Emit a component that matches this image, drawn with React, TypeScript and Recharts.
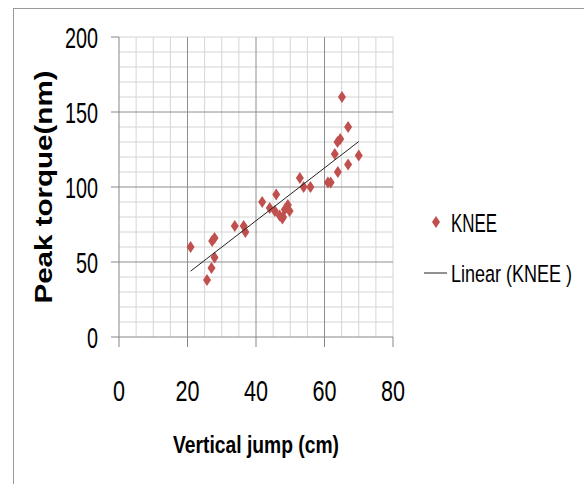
import React from 'react';
import {
  ScatterChart,
  Scatter,
  XAxis,
  YAxis,
  ReferenceLine,
} from 'recharts';

// vertical jump (cm) and peak torque (nm)
const jump = [
  20.9, 25.7, 27.0, 27.9, 27.2, 27.9, 33.8, 36.4, 36.9, 41.8, 44.0, 45.9, 45.5, 46.9, 47.9,
  48.4, 49.3, 49.8, 47.7, 52.8, 53.9, 55.9, 61.0, 61.8, 63.0, 63.8, 64.6, 65.1, 63.9, 66.9,
  66.9, 70.0,
];
const torque = [
  60, 38, 46, 53, 64, 66, 74, 74, 70, 90, 86, 95, 84, 81, 80,
  85, 88, 84, 79, 106, 100, 100, 103, 103, 122, 130, 132, 160, 110, 140,
  115, 121,
];

const xTicks = [0, 20, 40, 60, 80];
const yTicks = [0, 50, 100, 150, 200];
const xMinor = [5, 10, 15, 25, 30, 35, 45, 50, 55, 65, 70, 75, 80];
const yMinor = [10, 20, 30, 40, 60, 70, 80, 90, 110, 120, 130, 140, 160, 170, 180, 190, 200];
const xMajor = [20, 40, 60];
const yMajor = [50, 100, 150];

const points = jump.map((x, i) => ({ x, y: torque[i] }));

// least squares trendline (Excel "Linear")
const n = jump.length;
const mx = jump.reduce((s, v) => s + v, 0) / n;
const my = torque.reduce((s, v) => s + v, 0) / n;
const slope =
  jump.reduce((s, v, i) => s + (v - mx) * (torque[i] - my), 0) /
  jump.reduce((s, v) => s + (v - mx) * (v - mx), 0);
const icpt = my - slope * mx;
const xMin = Math.min(...jump);
const xMax = Math.max(...jump);
const trend = [
  { x: xMin, y: icpt + slope * xMin },
  { x: xMax, y: icpt + slope * xMax },
];

const FONT = "'Liberation Sans Narrow', 'Liberation Sans', Arial, sans-serif";
const RED = '#C0504D';
const AXIS = '#868686';

const Diamond = (props: any) => {
  const { cx, cy } = props;
  if (cx == null || cy == null) return <g />;
  return (
    <polygon
      points={`${cx},${cy - 6} ${cx + 4},${cy} ${cx},${cy + 6} ${cx - 4},${cy}`}
      fill={RED}
    />
  );
};

const XTick = ({ x, y, payload }: any) => {
  const s = String(payload.value);
  return (
    <text x={x} y={y + 54} textAnchor="middle" fontFamily={FONT} fontSize={30}
      textLength={s.length * 12} lengthAdjust="spacingAndGlyphs" fill="#000">
      {s}
    </text>
  );
};

const YTick = ({ x, y, payload }: any) => {
  const s = String(payload.value);
  return (
    <text x={x} y={y + 11} textAnchor="end" fontFamily={FONT} fontSize={30}
      textLength={s.length * 11} lengthAdjust="spacingAndGlyphs" fill="#000">
      {s}
    </text>
  );
};

export default function App() {
  return (
    <div style={{ position: 'absolute', left: 0, top: 0, width: 584, height: 484, background: '#fff' }}>
      <div style={{
        position: 'absolute', left: 13, top: 8, right: 0, bottom: 0,
        borderLeft: '1px solid #9a9a9a', borderTop: '1px solid #9a9a9a',
      }} />
      <div style={{ position: 'absolute', left: 0, top: 0 }}>
        <ScatterChart width={584} height={484} margin={{ top: 37, right: 191, bottom: 87, left: 0 }}>
          {xMinor.map((v) => (
            <ReferenceLine key={'xm' + v} x={v} stroke="#d4d4d4" strokeWidth={1} />
          ))}
          {yMinor.map((v) => (
            <ReferenceLine key={'ym' + v} y={v} stroke="#d4d4d4" strokeWidth={1} />
          ))}
          {xMajor.map((v) => (
            <ReferenceLine key={'xM' + v} x={v} stroke="#8e8e8e" strokeWidth={1} />
          ))}
          {yMajor.map((v) => (
            <ReferenceLine key={'yM' + v} y={v} stroke="#8e8e8e" strokeWidth={1} />
          ))}
          <XAxis
            type="number"
            dataKey="x"
            domain={[0, 80]}
            ticks={xTicks}
            interval={0}
            height={60}
            tickSize={10}
            tickMargin={0}
            axisLine={{ stroke: AXIS }}
            tickLine={{ stroke: AXIS }}
            tick={<XTick />}
          />
          <YAxis
            type="number"
            dataKey="y"
            domain={[0, 200]}
            ticks={yTicks}
            interval={0}
            width={119}
            tickSize={8}
            tickMargin={13}
            axisLine={{ stroke: AXIS }}
            tickLine={{ stroke: AXIS }}
            tick={<YTick />}
          />
          <Scatter data={points} fill={RED} shape={<Diamond />} isAnimationActive={false} />
          <Scatter
            data={trend}
            line={{ stroke: '#222', strokeWidth: 1 }}
            shape={() => <g />}
            isAnimationActive={false}
          />
        </ScatterChart>
      </div>
      {/* axis titles */}
      <svg style={{ position: 'absolute', left: 0, top: 0 }} width={584} height={484} pointerEvents="none">
        <text x={256} y={453} textAnchor="middle" fontFamily={FONT} fontWeight="bold"
          fontSize={24} textLength={166} lengthAdjust="spacingAndGlyphs" fill="#000">
          Vertical jump (cm)
        </text>
        <text x={52} y={187} transform="rotate(-90, 52, 187)" textAnchor="middle"
          fontFamily={FONT} fontWeight="bold" fontSize={23} textLength={233}
          lengthAdjust="spacingAndGlyphs" fill="#000">
          Peak torque(nm)
        </text>
        {/* legend */}
        <polygon points="436,216 440,222 436,228 432,222" fill={RED} />
        <text transform="translate(451,232) scale(1,1.18)" fontFamily={FONT} fontSize={22}
          textLength={46} lengthAdjust="spacingAndGlyphs" fill="#000">KNEE</text>
        <line x1={424} x2={447} y1={273} y2={273} stroke="#222" strokeWidth={1} />
        <text transform="translate(451,282) scale(1,1.18)" fontFamily={FONT} fontSize={21}
          textLength={121} lengthAdjust="spacingAndGlyphs" fill="#000">Linear (KNEE )</text>
      </svg>
    </div>
  );
}
